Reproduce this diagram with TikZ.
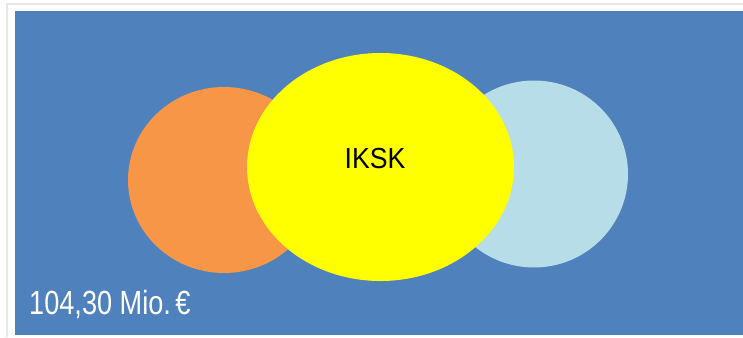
\documentclass[tikz,border=0pt]{standalone}
\usepackage{fontspec}
\setmainfont{Liberation Sans}
\begin{document}
\begin{tikzpicture}[x=1pt,y=-1pt]

\def\W{743}; \def\H{337};

\definecolor{bg}{RGB}{79,129,189};
\definecolor{orng}{RGB}{247,150,70};
\definecolor{sky}{RGB}{183,221,232};
\definecolor{lemon}{RGB}{255,255,0};
\definecolor{frame}{RGB}{232,232,232};

\useasboundingbox (0,0) rectangle (\W,\H);
\fill[white] (0,0) rectangle (\W,\H);
\draw[frame,line width=1.5pt] (7,\H)--(7,4)--(\W,4);
\fill[bg] (15,11) rectangle (\W,335);

% the three circles, yellow one on top
\fill[orng] (224,180) ellipse [x radius=96, y radius=93];
\fill[sky] (534,174) ellipse [x radius=94, y radius=93.5];
\fill[lemon] (380.5,167) ellipse [x radius=133.5, y radius=114];

\node[text=black] (iksk) at (375,159) {\fontsize{29}{31}\selectfont\scalebox{0.92}[1]{IKSK}};
\node[anchor=west,text=white,inner sep=0pt] (sum) at (29,305) {\fontsize{33.5}{36}\selectfont\scalebox{0.81}[1]{104,30 Mio.\,€}};

\end{tikzpicture}
\end{document}
